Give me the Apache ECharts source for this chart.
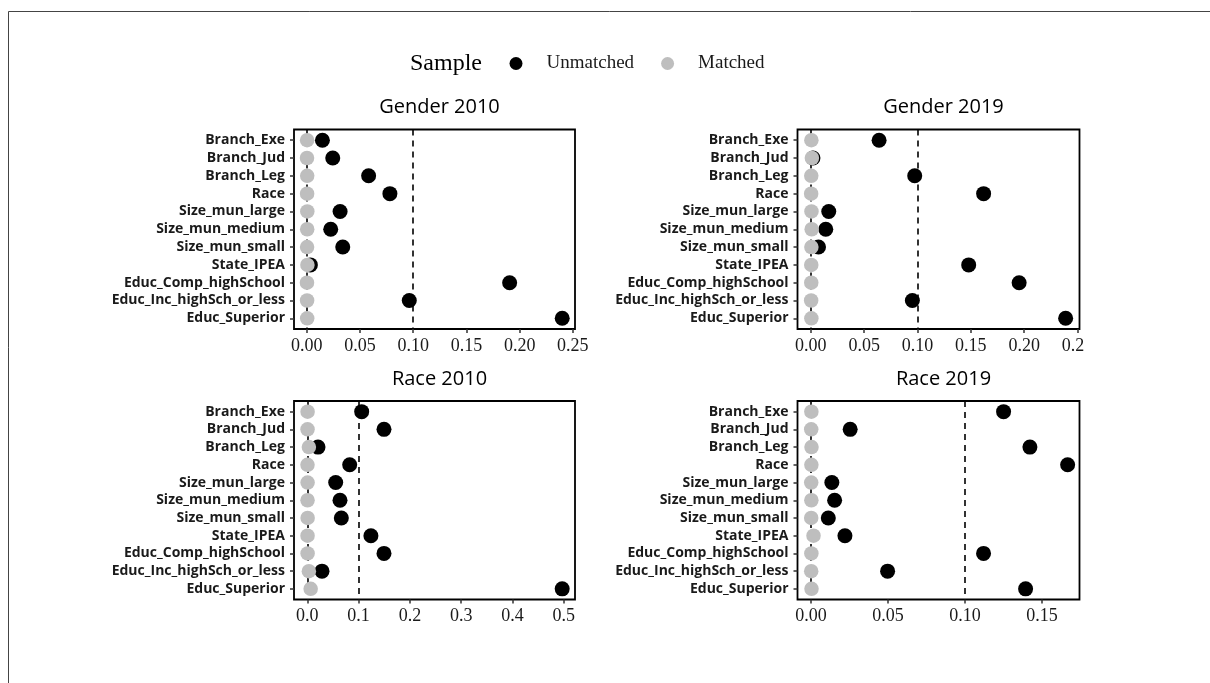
<!DOCTYPE html>
<html>
<head>
<meta charset="utf-8">
<script src="https://cdn.jsdelivr.net/npm/echarts@6/dist/echarts.min.js"></script>
<style>
  html, body { margin: 0; padding: 0; background: #fff; }
  #chart { width: 1210px; height: 683px; }
</style>
</head>
<body>
<div id="chart"></div>
<script>
const categories = ['Branch_Exe', 'Branch_Jud', 'Branch_Leg', 'Race', 'Size_mun_large', 'Size_mun_medium',
  'Size_mun_small', 'State_IPEA', 'Educ_Comp_highSchool', 'Educ_Inc_highSch_or_less', 'Educ_Superior'];

const panelTitles = ['Gender 2010', 'Gender 2019', 'Race 2010', 'Race 2019'];

const gender2010Unmatched = [0.0147, 0.0244, 0.0581, 0.0781, 0.0313, 0.0225, 0.0338, 0.0034, 0.1906, 0.0963, 0.2400];
const gender2010Matched = [0.0003, 0.0002, 0.0004, 0.0003, 0.0005, 0.0004, 0.0003, 0.0006, 0.0002, 0.0003, 0.0004];
const gender2019Unmatched = [0.0640, 0.0020, 0.0974, 0.1620, 0.0168, 0.0140, 0.0072, 0.1480, 0.1953, 0.0952, 0.2389];
const gender2019Matched = [0.0005, 0.0010, 0.0004, 0.0003, 0.0006, 0.0008, 0.0005, 0.0004, 0.0004, 0.0003, 0.0005];
const race2010Unmatched = [0.1060, 0.1495, 0.0208, 0.0826, 0.0553, 0.0637, 0.0663, 0.1240, 0.1495, 0.0286, 0.4970];
const race2010Matched = [0.0005, 0.0004, 0.0030, 0.0003, 0.0005, 0.0004, 0.0006, 0.0004, 0.0005, 0.0030, 0.0065];
const race2019Unmatched = [0.1251, 0.0255, 0.1422, 0.1667, 0.0136, 0.0154, 0.0113, 0.0221, 0.1121, 0.0498, 0.1394];
const race2019Matched = [0.0003, 0.0002, 0.0004, 0.0003, 0.0002, 0.0003, 0.0002, 0.0017, 0.0003, 0.0002, 0.0004];

const gender2010Ticks = [0, 0.05, 0.10, 0.15, 0.20, 0.25];
const gender2019Ticks = [0, 0.05, 0.10, 0.15, 0.20, 0.25];
const race2010Ticks = [0, 0.1, 0.2, 0.3, 0.4, 0.5];
const race2019Ticks = [0, 0.05, 0.10, 0.15];
const thresholdLines = [0, 0.1];

const panels = [
  {title: panelTitles[0], unmatched: gender2010Unmatched, matched: gender2010Matched, ticks: gender2010Ticks, digits: 2,
    min: -0.012, max: 0.252, left: 294, top: 129.5, width: 281, height: 199.5},
  {title: panelTitles[1], unmatched: gender2019Unmatched, matched: gender2019Matched, ticks: gender2019Ticks, digits: 2,
    min: -0.0125, max: 0.2519, left: 797.5, top: 129.5, width: 282, height: 199.5},
  {title: panelTitles[2], unmatched: race2010Unmatched, matched: race2010Matched, ticks: race2010Ticks, digits: 1,
    min: -0.026, max: 0.522, left: 294, top: 401, width: 281, height: 198.5},
  {title: panelTitles[3], unmatched: race2019Unmatched, matched: race2019Matched, ticks: race2019Ticks, digits: 2,
    min: -0.0087, max: 0.1744, left: 797.5, top: 401, width: 282, height: 198.5},
];

const catIdx = categories.map((c, i) => i);
const chart = echarts.init(document.getElementById('chart'), null, {renderer: 'canvas'});

const grid = [], xAxis = [], yAxis = [], series = [], title = [];

panels.forEach((p, k) => {
  grid.push({
    left: p.left, top: p.top, width: p.width, height: p.height,
    show: true, borderColor: '#000', borderWidth: 1.8, backgroundColor: 'transparent',
  });
  xAxis.push({
    type: 'value', gridIndex: k, min: p.min, max: p.max, position: 'bottom',
    axisLine: {show: false, onZero: false},
    splitLine: {show: false},
    axisTick: {show: true, length: 4, lineStyle: {color: '#333', width: 1.5}, customValues: p.ticks},
    axisLabel: {
      customValues: p.ticks, margin: 8, color: '#1a1a1a',
      fontFamily: 'Liberation Serif', fontSize: 18,
      formatter: (v) => Number(v).toFixed(p.digits),
    },
  });
  yAxis.push({
    type: 'value', gridIndex: k, inverse: true, min: -0.6, max: 10.6, position: 'left',
    axisLine: {show: false, onZero: false},
    splitLine: {show: false},
    axisTick: {show: true, length: 4, lineStyle: {color: '#333', width: 1.5}, customValues: catIdx},
    axisLabel: {
      customValues: catIdx, margin: 9, color: '#1a1a1a',
      fontFamily: 'Open Sans', fontWeight: 'bold', fontSize: 14,
      formatter: (v) => categories[Math.round(v)] || '',
    },
  });
  title.push({
    text: p.title, left: p.left + p.width / 2, top: p.top - 37, textAlign: 'center',
    textStyle: {fontFamily: 'Open Sans', fontWeight: 'normal', fontSize: 20, color: '#000'},
  });
  series.push({
    type: 'scatter', xAxisIndex: k, yAxisIndex: k, data: [], z: 1, silent: true,
    markLine: {
      silent: true, symbol: 'none', label: {show: false}, z: 1,
      lineStyle: {color: '#000', type: [6, 5], width: 1.6},
      data: thresholdLines.map((v) => ({xAxis: v})),
    },
  });
  series.push({
    name: 'Unmatched', type: 'scatter', xAxisIndex: k, yAxisIndex: k, z: 10,
    symbol: 'circle', symbolSize: 15, itemStyle: {color: '#000', opacity: 1},
    data: p.unmatched.map((v, i) => [v, i]),
  });
  series.push({
    name: 'Matched', type: 'scatter', xAxisIndex: k, yAxisIndex: k, z: 11,
    symbol: 'circle', symbolSize: 14.5, itemStyle: {color: '#bebebe', opacity: 1},
    data: p.matched.map((v, i) => [v, i]),
  });
});

title.push({
  text: 'Sample', left: 405, top: 47,
  textStyle: {fontFamily: 'Liberation Serif', fontWeight: 'normal', fontSize: 24, color: '#000'},
});

const option = {
  animation: false,
  backgroundColor: '#fff',
  title,
  legend: {
    data: ['Unmatched', 'Matched'],
    left: 504.5, top: 49,
    icon: 'circle', itemWidth: 13, itemHeight: 13, itemGap: 27,
    textStyle: {fontFamily: 'Liberation Serif', fontSize: 19, color: '#1a1a1a', padding: [0, 0, 0, 19]},
    selectedMode: false,
  },
  grid, xAxis, yAxis, series,
  graphic: [
    {type: 'rect', shape: {x: 8.5, y: 11.5, width: 1400, height: 1000},
      style: {fill: 'none', stroke: '#444', lineWidth: 1}, silent: true, z: 0},
    // the last tick label of the Gender 2019 panel is cut off at the panel edge
    {type: 'rect', shape: {x: 1084, y: 334, width: 60, height: 26},
      style: {fill: '#fff'}, silent: true, z: 100},
  ],
};

chart.setOption(option);
</script>
</body>
</html>
